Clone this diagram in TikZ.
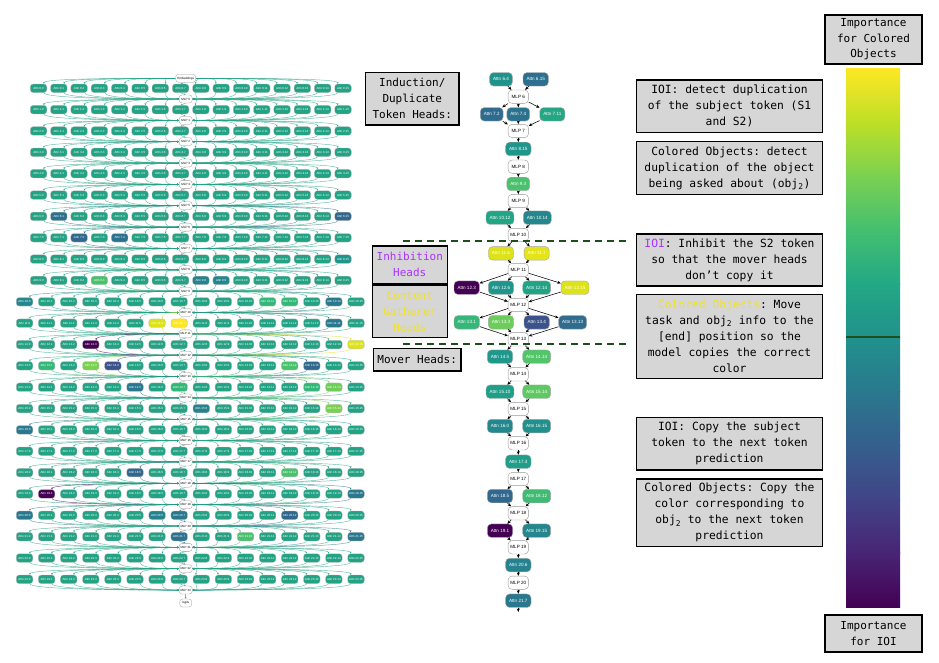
\documentclass[tikz,border=0pt]{standalone}
\usepackage{fontspec}
\setmonofont{DejaVu Sans Mono}
\newfontfamily\gfont{Liberation Sans}
\usetikzlibrary{arrows.meta}
\pgfdeclarelayer{bg}
\pgfsetlayers{bg,main}
% viridis-like palette
\definecolor{vdef}{HTML}{23A284}
\definecolor{tA}{HTML}{24878E}
\definecolor{tB}{HTML}{26828E}
\definecolor{tC}{HTML}{2A788E}
\definecolor{tD}{HTML}{2C728E}
\definecolor{bA}{HTML}{31688E}
\definecolor{bB}{HTML}{3B528B}
\definecolor{gA}{HTML}{35B779}
\definecolor{gB}{HTML}{4AC16D}
\definecolor{gC}{HTML}{6ECE58}
\definecolor{gD}{HTML}{7AD151}
\definecolor{yA}{HTML}{DDE318}
\definecolor{yB}{HTML}{FDE725}
\definecolor{pA}{HTML}{440154}
\definecolor{dT}{HTML}{1F968B}
\definecolor{vc0}{HTML}{440154}
\definecolor{vc1}{HTML}{482475}
\definecolor{vc2}{HTML}{414487}
\definecolor{vc3}{HTML}{355F8D}
\definecolor{vc4}{HTML}{2A788E}
\definecolor{vc5}{HTML}{21918C}
\definecolor{vc6}{HTML}{22A884}
\definecolor{vc7}{HTML}{44BF70}
\definecolor{vc8}{HTML}{7AD151}
\definecolor{vc9}{HTML}{BDDF26}
\definecolor{vc10}{HTML}{FDE725}
\definecolor{boxgray}{HTML}{D6D6D6}
\definecolor{purp}{HTML}{AA33FF}
\definecolor{yel}{HTML}{EFE22A}
\definecolor{dgreen}{HTML}{1C4F1C}
% middle column colours
\definecolor{mA}{HTML}{20928C}
\definecolor{mB}{HTML}{2C6F8E}
\definecolor{mC}{HTML}{2F6B8E}
\definecolor{mD}{HTML}{2C728E}
\definecolor{mE}{HTML}{26A784}
\definecolor{mF}{HTML}{1F968B}
\definecolor{mG}{HTML}{4AC16D}
\definecolor{mH}{HTML}{21A585}
\definecolor{mI}{HTML}{24878E}
\definecolor{mJ}{HTML}{DDE318}
\definecolor{mK}{HTML}{E5E419}
\definecolor{mL}{HTML}{440154}
\definecolor{mM}{HTML}{21A386}
\definecolor{mN}{HTML}{35B779}
\definecolor{mO}{HTML}{6CCD5A}
\definecolor{mP}{HTML}{3B528B}
\definecolor{mQ}{HTML}{2F6C8E}
\definecolor{mR}{HTML}{1F988B}
\definecolor{mS}{HTML}{52C569}
\definecolor{mT}{HTML}{1F9F88}
\definecolor{mU}{HTML}{5EC962}
\definecolor{mV}{HTML}{23888E}
\definecolor{mW}{HTML}{21908D}
\definecolor{mX}{HTML}{1F9E89}
\definecolor{mY}{HTML}{31688E}
\definecolor{mZ}{HTML}{3FBC73}
\definecolor{mAA}{HTML}{26828E}
\definecolor{mAB}{HTML}{2A788E}
% colour lookup for the left graph
\newcommand\setnc[3]{\expandafter\def\csname nc-#1-#2\endcsname{#3}}
\setnc{6}{1}{tD}\setnc{6}{15}{bA}
\setnc{7}{2}{bA}\setnc{7}{4}{tD}
\setnc{8}{15}{dT}
\setnc{9}{3}{gB}\setnc{9}{8}{tB}\setnc{9}{9}{tA}
\setnc{10}{0}{tA}\setnc{10}{11}{gA}\setnc{10}{12}{gA}\setnc{10}{14}{tC}
\setnc{11}{6}{yA}\setnc{11}{7}{yB}\setnc{11}{14}{tC}
\setnc{12}{3}{pA}\setnc{12}{15}{yA}
\setnc{13}{1}{gA}\setnc{13}{3}{gD}\setnc{13}{4}{bB}\setnc{13}{12}{gB}\setnc{13}{13}{bA}
\setnc{14}{5}{tC}\setnc{14}{7}{gA}\setnc{14}{13}{gA}\setnc{14}{14}{gC}
\setnc{15}{8}{tB}\setnc{15}{14}{gD}
\setnc{16}{0}{tC}
\setnc{18}{5}{bA}\setnc{18}{12}{gB}
\setnc{19}{1}{pA}\setnc{19}{15}{tC}
\setnc{20}{0}{tC}\setnc{20}{6}{tB}\setnc{20}{7}{tC}\setnc{20}{12}{bA}
\setnc{21}{7}{tD}\setnc{21}{10}{gB}\setnc{21}{15}{tC}
\tikzset{
  lnode/.style={rounded corners=2.8pt, draw=gray!55, line width=0.25pt, minimum width=16.5pt, minimum height=8.5pt, inner sep=0pt, font=\gfont\fontsize{3}{3}\selectfont, text=white},
  lmlp/.style={rounded corners=2.8pt, draw=gray!80, fill=white, line width=0.3pt, minimum width=13pt, minimum height=8pt, inner xsep=1pt, inner ysep=0pt, font=\gfont\fontsize{3}{3}\selectfont, text=black},
  ledge/.style={line width=0.45pt, draw opacity=0.7, -{Stealth[length=2pt,width=1.8pt]}},
  mattn/.style={rounded corners=4pt, draw=gray!70, line width=0.4pt, minimum width=22pt, minimum height=13.5pt, inner xsep=3.5pt, inner ysep=0pt, font=\gfont\fontsize{4.6}{5}\selectfont, text=white},
  mmlp/.style={rounded corners=4pt, draw=gray!80, fill=white, line width=0.4pt, minimum width=20.5pt, minimum height=13.3pt, inner xsep=2pt, inner ysep=0pt, font=\gfont\fontsize{4.6}{5}\selectfont, text=black},
  medge/.style={line width=0.55pt, black, -{Stealth[length=3.5pt,width=3pt]}},
  tbox/.style={draw=black, line width=1.5pt, fill=boxgray, inner sep=0pt, align=center, font=\ttfamily\fontsize{11.3}{16}\selectfont},
  cbox/.style={draw=black, line width=1.5pt, fill=boxgray, inner sep=0pt, align=center, font=\ttfamily\fontsize{11}{15.5}\selectfont},
  sepline/.style={line width=2.6pt, dgreen, dash pattern=on 7pt off 5pt},
}
\begin{document}
\begin{tikzpicture}[x=1pt, y=-1pt]
\useasboundingbox (0,0) rectangle (939,663);
\begin{pgfonlayer}{bg}
\fill[white] (0,0) rectangle (939,663);
\end{pgfonlayer}

% ---------------- left: full graph ----------------
\node[lmlp, minimum width=20pt] (LE) at (185.7,78.3) {Embeddings};
\foreach \i in {0,...,23} {
  \pgfmathsetmacro\ry{88.3+21.35*\i}
  \node[lmlp] (LM-\i) at (185.7,\ry+10.7) {MLP \i};
  \foreach \j in {0,...,15} {
    \ifnum\i<10 \pgfmathsetmacro\rx{38.5+20.3*\j}\else\pgfmathsetmacro\rx{24.5+22.1*\j}\fi
    \edef\cname{\ifcsname nc-\i-\j\endcsname\csname nc-\i-\j\endcsname\else vdef\fi}
    \node[lnode, fill=\cname] (L-\i-\j) at (\rx,\ry) {Attn \i.\j};
  }
}
\node[lmlp, minimum width=12pt] (LL) at (185.7,603) {logits};

\begin{pgfonlayer}{bg}
\foreach \i in {0,...,23} {
  \ifnum\i=0 \def\src{LE}\else\pgfmathtruncatemacro\pv{\i-1}\edef\src{LM-\pv}\fi
  \foreach \j in {0,...,15} {
    \edef\cname{\ifcsname nc-\i-\j\endcsname\csname nc-\i-\j\endcsname\else vdef\fi}
    \ifnum\i<10 \pgfmathsetmacro\rx{38.5+20.3*\j}\else\pgfmathsetmacro\rx{24.5+22.1*\j}\fi
    \pgfmathsetmacro\hdx{(\rx-185.7)*0.5}
    \ifdim\rx pt>195pt
      \draw[ledge,\cname] (\src.east) .. controls +(\hdx,0) and +(0,-5) .. ([xshift=3pt]L-\i-\j.north west);
      \draw[ledge,\cname] ([xshift=3pt]L-\i-\j.south west) .. controls +(0,5) and +(\hdx,0) .. (LM-\i.east);
    \else\ifdim\rx pt<176pt
      \draw[ledge,\cname] (\src.west) .. controls +(\hdx,0) and +(0,-5) .. ([xshift=-3pt]L-\i-\j.north east);
      \draw[ledge,\cname] ([xshift=-3pt]L-\i-\j.south east) .. controls +(0,5) and +(\hdx,0) .. (LM-\i.west);
    \else
      \draw[ledge,\cname] (\src.south) -- (L-\i-\j.north);
      \draw[ledge,\cname] (L-\i-\j.south) -- (LM-\i.north);
    \fi\fi
  }
}
\draw[ledge,vdef] (LM-23.south) -- (LL.north);
\end{pgfonlayer}

% ---------------- middle: sub-circuit ----------------
\node[mattn, fill=mA] (a64) at (501,79.3) {Attn 6.4};
\node[mattn, fill=mB] (a615) at (535.7,79.3) {Attn 6.15};
\node[mmlp] (m6) at (518.3,96.7) {MLP 6};
\node[mattn, fill=mC] (a72) at (491.7,114.3) {Attn 7.2};
\node[mattn, fill=mD] (a74) at (518.3,114.3) {Attn 7.4};
\node[mattn, fill=mE] (a711) at (552.3,114.3) {Attn 7.11};
\node[mmlp] (m7) at (518.3,131) {MLP 7};
\node[mattn, fill=mF] (a815) at (518.3,149) {Attn 8.15};
\node[mmlp] (m8) at (518.3,166.7) {MLP 8};
\node[mattn, fill=mG] (a93) at (518.3,184) {Attn 9.3};
\node[mmlp] (m9) at (518.3,201) {MLP 9};
\node[mattn, fill=mH] (a1012) at (500,217.7) {Attn 10.12};
\node[mattn, fill=mI] (a1014) at (537.3,217.7) {Attn 10.14};
\node[mmlp] (m10) at (518.3,235) {MLP 10};
\node[mattn, fill=mJ] (a116) at (501,253.3) {Attn 11.6};
\node[mattn, fill=mK] (a117) at (536.7,253.3) {Attn 11.7};
\node[mmlp] (m11) at (518.3,270) {MLP 11};
\node[mattn, fill=mL] (a123) at (466.7,287.7) {Attn 12.3};
\node[mattn, fill=mF] (a126) at (501,287.7) {Attn 12.6};
\node[mattn, fill=mM] (a1214) at (536.7,287.7) {Attn 12.14};
\node[mattn, fill=mJ] (a1215) at (575,287.7) {Attn 12.15};
\node[mmlp] (m12) at (518.3,305) {MLP 12};
\node[mattn, fill=mN] (a131) at (466.7,322.3) {Attn 13.1};
\node[mattn, fill=mO] (a133) at (501,322.3) {Attn 13.3};
\node[mattn, fill=mP] (a134) at (536.7,322.3) {Attn 13.4};
\node[mattn, fill=mQ] (a1313) at (572.7,322.3) {Attn 13.13};
\node[mmlp] (m13) at (518.3,339.3) {MLP 13};
\node[mattn, fill=mR] (a145) at (500,356.7) {Attn 14.5};
\node[mattn, fill=mS] (a1414) at (536.7,356.7) {Attn 14.14};
\node[mmlp] (m14) at (518.3,374.3) {MLP 14};
\node[mattn, fill=mT] (a1510) at (500,391.7) {Attn 15.10};
\node[mattn, fill=mU] (a1514) at (536.7,391.7) {Attn 15.14};
\node[mmlp] (m15) at (518.3,409) {MLP 15};
\node[mattn, fill=mV] (a160) at (500,426) {Attn 16.0};
\node[mattn, fill=mW] (a1615) at (536.7,426) {Attn 16.15};
\node[mmlp] (m16) at (518.3,443.3) {MLP 16};
\node[mattn, fill=mX] (a174) at (518.3,461.7) {Attn 17.4};
\node[mmlp] (m17) at (518.3,479) {MLP 17};
\node[mattn, fill=mY] (a185) at (500,496) {Attn 18.5};
\node[mattn, fill=mZ] (a1812) at (536.7,496) {Attn 18.12};
\node[mmlp] (m18) at (518.3,513.3) {MLP 18};
\node[mattn, fill=mL] (a191) at (500,530.7) {Attn 19.1};
\node[mattn, fill=mI] (a1915) at (536.7,530.7) {Attn 19.15};
\node[mmlp] (m19) at (518.3,547.3) {MLP 19};
\node[mattn, fill=mAA] (a206) at (518.3,565) {Attn 20.6};
\node[mmlp] (m20) at (518.3,582.7) {MLP 20};
\node[mattn, fill=mAB] (a217) at (518.3,600.7) {Attn 21.7};
\coordinate (mend) at (518.3,612);

\foreach \a/\b in {a64/m6, a615/m6, m6/a72, m6/a74, m6/a711, a72/m7, a74/m7, a711/m7,
  m7/a815, a815/m8, m8/a93, a93/m9, m9/a1012, m9/a1014, a1012/m10, a1014/m10,
  m10/a116, m10/a117, a116/m11, a117/m11,
  m11/a123, m11/a126, m11/a1214, m11/a1215, a123/m12, a126/m12, a1214/m12, a1215/m12,
  m12/a131, m12/a133, m12/a134, m12/a1313, a131/m13, a133/m13, a134/m13, a1313/m13,
  m13/a145, m13/a1414, a145/m14, a1414/m14, m14/a1510, m14/a1514, a1510/m15, a1514/m15,
  m15/a160, m15/a1615, a160/m16, a1615/m16, m16/a174, a174/m17,
  m17/a185, m17/a1812, a185/m18, a1812/m18, m18/a191, m18/a1915, a191/m19, a1915/m19,
  m19/a206, a206/m20, m20/a217, a217/mend}
  \draw[medge] (\a) -- (\b);

% separators
\coordinate (s1a) at (403,241); \coordinate (s1b) at (630,241);
\coordinate (s2a) at (403,344); \coordinate (s2b) at (630,344);
\draw[sepline] (s1a) -- (s1b);
\draw[sepline] (s2a) -- (s2b);

% ---------------- label boxes ----------------
\node[tbox, font=\ttfamily\fontsize{11}{16}\selectfont, minimum width=93.3pt, minimum height=52.7pt] (lind) at (412.3,98.7) {Induction/\\Duplicate\\Token Heads:};
\node[tbox, font=\ttfamily\fontsize{11}{16}\selectfont, text=purp, minimum width=75pt, minimum height=37.3pt] (linh) at (409.8,264.7) {Inhibition\\Heads};
\node[tbox, font=\ttfamily\fontsize{11}{16}\selectfont, text=yel, minimum width=75pt, minimum height=52.7pt] (lcon) at (409.8,311.3) {Content\\Gatherer\\Heads};
\node[tbox, font=\ttfamily\fontsize{11}{16}\selectfont, minimum width=87.7pt, minimum height=22.7pt] (lmov) at (417.2,359.7) {Mover Heads:};

\node[tbox, minimum width=185.6pt, minimum height=52.7pt] (r1) at (729.5,106.3) {IOI: detect duplication\\of the subject token (S1\\and S2)};
\node[tbox, minimum width=185.6pt, minimum height=52.6pt] (r2) at (729.5,168) {Colored Objects: detect\\duplication of the object\\being asked about (obj\textsubscript{2})};
\node[tbox, minimum width=185.6pt, minimum height=52pt] (r3) at (729.5,260) {\textcolor{purp}{IOI}: Inhibit the S2 token\\so that the mover heads\\don’t copy it};
\node[tbox, minimum width=185.6pt, minimum height=84pt] (r4) at (729.5,336.3) {\textcolor{yel}{Colored Objects}: Move\\task and obj\textsubscript{2} info to the\\{}[end] position so the\\model copies the correct\\color};
\node[tbox, minimum width=185.6pt, minimum height=52.3pt] (r5) at (729.5,443.8) {IOI: Copy the subject\\token to the next token\\prediction};
\node[tbox, minimum width=185.6pt, minimum height=67.7pt] (r6) at (729.5,512.8) {Colored Objects: Copy the\\color corresponding to\\obj\textsubscript{2} to the next token\\prediction};

% ---------------- colour bar ----------------
\shade[bottom color=vc0, top color=vc1] (846,607) rectangle (900,552.9);
\shade[bottom color=vc1, top color=vc2] (846,553.2) rectangle (900,499.1);
\shade[bottom color=vc2, top color=vc3] (846,499.4) rectangle (900,445.3);
\shade[bottom color=vc3, top color=vc4] (846,445.6) rectangle (900,391.5);
\shade[bottom color=vc4, top color=vc5] (846,391.8) rectangle (900,337.7);
\shade[bottom color=vc5, top color=vc6] (846,338) rectangle (900,283.9);
\shade[bottom color=vc6, top color=vc7] (846,284.2) rectangle (900,230.1);
\shade[bottom color=vc7, top color=vc8] (846,230.4) rectangle (900,176.3);
\shade[bottom color=vc8, top color=vc9] (846,176.6) rectangle (900,122.5);
\shade[bottom color=vc9, top color=vc10] (846,122.8) rectangle (900,69);
\coordinate (cbl) at (846,337); \coordinate (cbr) at (900,337);
\draw[line width=2pt, dgreen] (cbl) -- (cbr);

\node[cbox, minimum width=97pt, minimum height=49pt] (ctop) at (873.5,39.5) {Importance\\for Colored\\Objects};
\node[cbox, minimum width=97pt, minimum height=37pt] (cbot) at (873.5,633.5) {Importance\\for IOI};
\end{tikzpicture}
\end{document}
